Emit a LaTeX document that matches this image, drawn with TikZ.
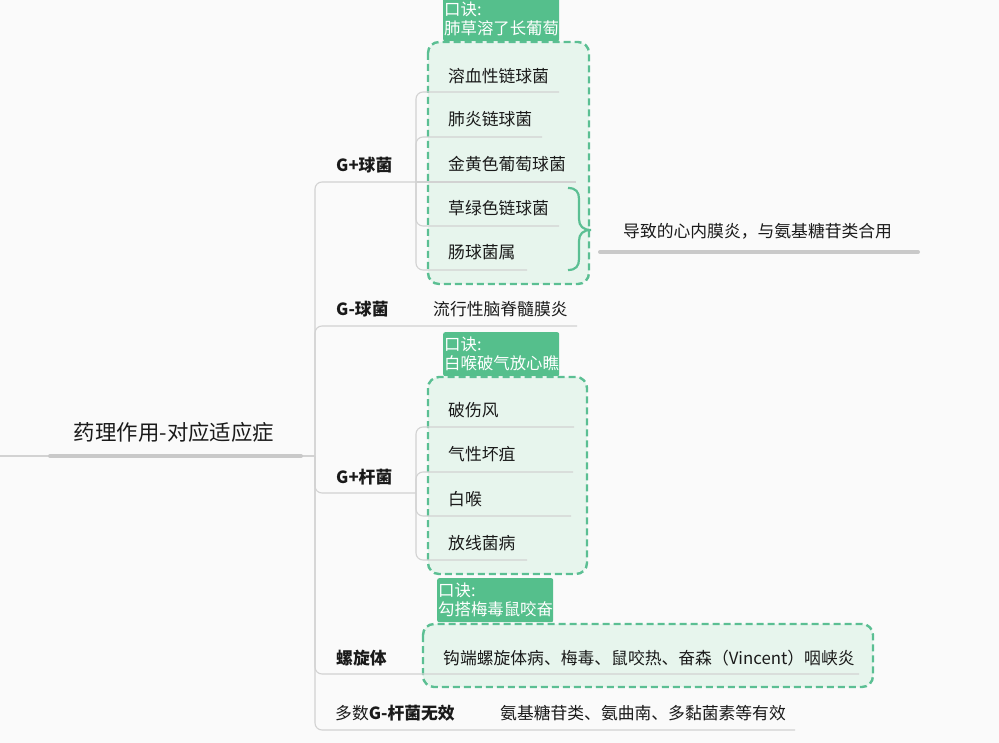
\documentclass[tikz,border=0pt]{standalone}
\usepackage{fontspec}
\setmainfont{Noto Sans CJK SC}
\definecolor{bgc}{HTML}{FAFAFA}
\definecolor{lnc}{HTML}{D2D2D2}
\definecolor{barc}{HTML}{C9C9C9}
\definecolor{kjg}{HTML}{55BF8C}
\definecolor{dsh}{HTML}{5BBF93}
\definecolor{fillg}{HTML}{E7F5ED}
\definecolor{txt}{HTML}{1A1A1A}
\begin{document}
\begin{tikzpicture}[x=1pt,y=-1pt,
 conn/.style={draw=lnc, line width=1.1pt, rounded corners=7pt},
 bar/.style={draw=barc, line width=4pt, line cap=round},
 item/.style={anchor=west, inner sep=0pt, text=txt, font=\fontsize{16.8}{19}\selectfont},
 cat/.style={anchor=west, inner sep=0pt, text=txt, font=\fontsize{16.8}{19}\selectfont\bfseries},
 dbox/.style={draw=dsh, fill=fillg, line width=2.4pt, dash pattern=on 7pt off 4pt, rounded corners=11pt},
 kj/.style={anchor=north west, fill=kjg, text=white, minimum width=116pt, minimum height=44pt, text width=114pt, align=left, inner xsep=1pt, inner ysep=0pt, rounded corners=2pt, font=\fontsize{16.4}{19}\selectfont},
 bracestyle/.style={draw=dsh, line width=2.2pt}
]
\useasboundingbox (0,0) rectangle (999,743);
\clip (0,0) rectangle (999,743);
\fill[bgc] (0,0) rectangle (999,743);

% dashed groups
\draw[dbox] (428,42) rectangle (589,284);
\draw[dbox] (428,377) rectangle (587,574);
\draw[dbox] (423,624) rectangle (873,687);

% coordinates
\coordinate (lft) at (0,456);
\coordinate (bs) at (50,456);
\coordinate (be) at (301,456);
\coordinate (tj) at (315,456);
\coordinate (j1) at (416,182);
\coordinate (j3) at (416,493);
\coordinate (e11) at (559,92);
\coordinate (e12) at (542,137);
\coordinate (e13) at (576,182);
\coordinate (e14) at (559,226);
\coordinate (e15) at (527,270);
\coordinate (e2) at (577,326);
\coordinate (e31) at (574,427);
\coordinate (e32) at (573,472);
\coordinate (e33) at (571,516);
\coordinate (e34) at (527,560);
\coordinate (e4) at (859,674);
\coordinate (e5) at (795,730);
\coordinate (ns) at (600,252);
\coordinate (ne) at (918,252);

% connectors
\draw[conn] (lft) -- (bs);
\draw[conn] (be) -- (tj);
\draw[conn] (tj) |- (j1);
\draw[conn] (tj) |- (e2);
\draw[conn] (tj) |- (j3);
\draw[conn] (tj) |- (e4);
\draw[conn] (tj) |- (e5);
\draw[conn] (j1) |- (e11);
\draw[conn] (j1) |- (e12);
\draw[conn] (j1) -- (e13);
\draw[conn] (j1) |- (e14);
\draw[conn] (j1) |- (e15);
\draw[conn] (j3) |- (e31);
\draw[conn] (j3) |- (e32);
\draw[conn] (j3) |- (e33);
\draw[conn] (j3) |- (e34);
\draw[bar] (bs) -- (be);
\draw[bar] (ns) -- (ne);

% root
\node[anchor=center, inner sep=0pt, text=txt, font=\fontsize{21.4}{24}\selectfont] (root) at (174,432) {药理作用-对应适应症};

% categories
\node[cat] (c1) at (336,165) {G+球菌};
\node[cat] (c2) at (336,309) {G-球菌};
\node[cat] (c3) at (336,477) {G+杆菌};
\node[cat] (c4) at (336,658) {螺旋体};
\node[item] (c5) at (335,713) {多数\textbf{G-杆菌无效}};

% children
\node[item] (a1) at (448,76) {溶血性链球菌};
\node[item] (a2) at (448,119) {肺炎链球菌};
\node[item] (a3) at (448,164) {金黄色葡萄球菌};
\node[item] (a4) at (448,208) {草绿色链球菌};
\node[item] (a5) at (448,252) {肠球菌属};
\node[item] (b1) at (433,309) {流行性脑脊髓膜炎};
\node[item] (d1) at (448,410) {破伤风};
\node[item] (d2) at (448,454) {气性坏疽};
\node[item] (d3) at (448,499) {白喉};
\node[item] (d4) at (448,543) {放线菌病};
\node[item] (f1) at (443,658) {钩端螺旋体病、梅毒、鼠咬热、奋森（Vincent）咽峡炎};
\node[item] (g1) at (500,713) {氨基糖苷类、氨曲南、多黏菌素等有效};
\node[item] (n1) at (623,231) {导致的心内膜炎，与氨基糖苷类合用};

% brace
\draw[bracestyle] (568,188) .. controls (576,188) and (579,192) .. (579,199) -- (579,219) .. controls (579,226) and (583,230) .. (591,230) .. controls (583,230) and (579,234) .. (579,241) -- (579,259) .. controls (579,266) and (576,270) .. (568,270);

% mnemonic labels
\node[kj] (k1) at (443,-3) {口诀:\\肺草溶了长葡萄};
\node[kj] (k2) at (443,332) {口诀:\\白喉破气放心瞧};
\node[kj] (k3) at (437,578) {口诀:\\勾搭梅毒鼠咬奋};
\end{tikzpicture}
\end{document}
